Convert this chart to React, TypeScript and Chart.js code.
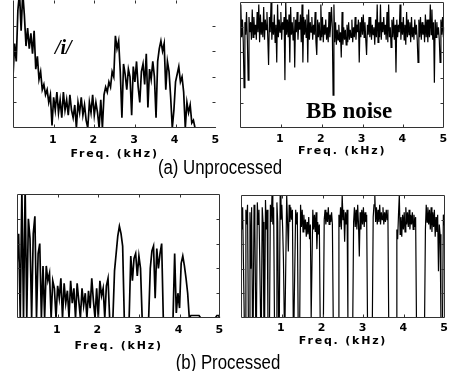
import React, { useEffect, useRef } from "react";
import { Chart, registerables } from "chart.js";

Chart.register(...registerables);

// ---- data ----
const VOWEL_STEP_KHZ = 0.04; // spacing of the /i/ spectrum samples, 0 .. 5 kHz
const NOISE_STEP_KHZ = 0.02; // spacing of the noise spectrum samples, 0 .. 5 kHz
const X_TICKS = [1, 2, 3, 4, 5];
const Y_TICKS = [1, 2, 3, 4];
const X_TITLE = "Freq. (kHz)";
const CAPTION_A = "(a) Unprocessed";
const CAPTION_B = "(b) Processed";
const LABEL_VOWEL = "/i/";
const LABEL_NOISE = "BB noise";

const vowelUnprocessed = [
  2.0, 3.3, 2.6, 4.6, 5.3, 3.8, 5.3, 4.4, 3.2, 3.9,
  3.1, 3.7, 2.9, 3.8, 2.3, 2.8, 1.9, 2.2, 1.5, 1.7,
  1.3, 1.5, 1.0, 1.3, 0.1, 1.2, 0.7, 1.4, 0.6, 1.1,
  0.4, 1.4, 0.7, 1.1, 0.5, 1.3, 0.7, 0.4, 0.9, 0.0,
  1.0, 0.6, 1.2, 0.5, 0.9, 0.3, 0.0, 1.0, 0.6, 1.3,
  0.5, 1.0, 0.6, 0.0, 1.1, 0.0, 1.3, 1.6, 1.4, 1.8,
  1.6, 2.2, 2.0, 3.6, 3.1, 3.4, 2.2, 0.4, 2.5, 2.1,
  1.5, 2.3, 2.0, 0.5, 2.4, 1.8, 2.6, 1.6, 1.0, 2.2,
  2.5, 1.7, 2.9, 0.8, 2.3, 1.9, 2.6, 2.0, 0.4, 2.6,
  3.1, 3.4, 3.0, 3.3, 1.5, 2.6, 2.2, 1.2, 0.0, 0.7,
  1.8, 2.1, 2.4, 1.8, 2.0, 1.4, 0.0, 1.0, 0.6, 0.9,
  0.2, 0.3, 0.0, 0, 0, 0, 0, 0, 0, 0,
  0, 0, 0, 0, 0, 0,
];

const noiseUnprocessed = [
  3.9, 4.9, 3.6, 4.3, 3.4, 1.6, 4.2, 3.7, 4.6, 3.5,
  1.9, 4.4, 3.8, 4.2, 3.5, 4.7, 3.6, 4.4, 3.7, 4.1,
  3.5, 4.6, 3.8, 4.9, 3.4, 4.5, 3.7, 4.2, 3.6, 4.8,
  3.5, 4.3, 3.9, 4.6, 3.6, 2.5, 4.4, 3.8, 5.0, 3.5,
  4.2, 3.7, 4.5, 3.4, 4.1, 2.6, 4.9, 3.6, 4.3, 3.8,
  4.6, 3.5, 4.2, 3.9, 4.4, 1.9, 5.0, 3.7, 4.3, 3.6,
  4.5, 2.6, 4.8, 3.7, 4.2, 3.5, 4.4, 2.4, 4.3, 3.8,
  4.6, 3.5, 4.2, 3.9, 4.5, 3.4, 4.9, 2.6, 4.4, 3.7,
  4.3, 3.6, 4.5, 2.6, 4.7, 3.5, 4.2, 3.8, 4.4, 3.5,
  4.1, 3.7, 4.6, 3.4, 2.9, 4.3, 3.6, 4.2, 3.5, 4.9,
  3.6, 4.4, 3.4, 4.1, 3.7, 4.3, 3.5, 4.0, 3.4, 4.6,
  3.6, 4.1, 4.8, 4.0, 1.3, 4.9, 3.4, 4.2, 3.3, 3.9,
  3.5, 4.1, 3.4, 3.8, 2.8, 4.6, 3.3, 4.0, 3.5, 3.9,
  3.3, 4.1, 3.4, 4.2, 3.5, 3.9, 3.6, 4.3, 3.4, 4.0,
  3.6, 4.4, 3.5, 4.1, 3.8, 4.3, 2.6, 4.2, 3.6, 4.4,
  3.7, 4.5, 3.6, 4.2, 3.5, 2.9, 4.1, 3.7, 4.4, 3.6,
  4.4, 3.5, 4.1, 3.7, 4.0, 3.3, 4.3, 3.6, 4.9, 3.4,
  4.2, 3.6, 4.9, 3.5, 4.2, 3.8, 4.4, 3.7, 4.1, 3.5,
  4.6, 3.4, 4.9, 3.6, 4.0, 3.2, 4.3, 3.6, 4.4, 3.5,
  4.1, 2.2, 4.3, 3.6, 4.1, 3.8, 4.9, 3.5, 4.2, 3.7,
  4.4, 3.5, 4.1, 3.3, 4.6, 3.6, 4.3, 3.7, 4.2, 3.4,
  4.4, 3.6, 4.0, 3.5, 4.3, 3.7, 4.1, 3.5, 2.6, 4.3,
  3.6, 4.4, 3.5, 4.2, 3.7, 4.1, 3.4, 4.5, 3.6, 4.3,
  3.4, 4.3, 3.6, 4.9, 3.7, 4.7, 3.5, 4.2, 1.8, 4.3,
  3.6, 4.2, 3.7, 4.0, 3.5, 2.6, 4.3, 3.7, 4.4, 3.6,
  4.0,
];

const vowelProcessed = [
  2.1, 3.4, 0, 5.2, 0, 5.3, 0, 4.0, 3.2, 0,
  3.4, 4.1, 0, 2.6, 3.0, 0, 2.1, 0, 2.1, 1.5,
  1.8, 0, 1.5, 1.2, 0, 1.3, 0.8, 1.6, 0, 1.4,
  0.6, 1.1, 0, 1.5, 0.6, 1.2, 0, 1.4, 0.7, 0,
  1.2, 0.5, 1.0, 0, 1.1, 0.4, 1.6, 0.7, 0, 1.2,
  0, 1.5, 0.9, 1.2, 0, 1.3, 1.6, 0, 0, 0,
  1.9, 2.6, 3.3, 3.7, 3.4, 2.9, 0, 0, 0, 0,
  2.5, 1.5, 2.4, 2.6, 1.7, 2.5, 2.0, 0, 0, 0,
  0, 0, 2.0, 2.7, 2.9, 0.8, 2.8, 2.0, 2.6, 3.0,
  0, 0, 0, 0, 0, 0, 0, 2.6, 0.2, 1.0,
  0.4, 2.2, 2.5, 2.1, 1.6, 1.0, 0, 0.1, 0.1, 0.1,
  0.1, 0.1, 0.1, 0, 0, 0, 0, 0, 0, 0,
  0, 0, 0, 0.1, 0.1, 0,
];

const noiseProcessed = [
  4.2, 3.6, 4.5, 2.2, 0, 0, 4.4, 3.8, 4.6, 0,
  0, 4.3, 2.0, 4.5, 0, 0, 4.6, 3.7, 0, 0,
  4.7, 3.8, 4.4, 2.3, 0, 0, 4.5, 3.9, 0, 0,
  4.8, 3.6, 4.4, 0, 0, 0, 4.6, 3.9, 5.0, 3.8,
  4.5, 0, 0, 0, 4.7, 3.9, 0, 0, 5.0, 4.0,
  4.6, 3.7, 2.4, 0, 0, 0, 5.0, 3.9, 2.7, 4.6,
  3.9, 4.5, 4.0, 4.4, 0, 0, 0, 4.4, 3.8, 4.3,
  0, 0, 0, 4.6, 3.7, 4.4, 3.5, 4.2, 3.6, 4.0,
  3.3, 3.9, 3.4, 4.1, 3.2, 3.8, 0, 0, 4.4, 3.6,
  4.2, 3.5, 4.3, 2.8, 3.9, 3.4, 3.8, 0, 0, 0,
  0, 0, 4.0, 4.4, 3.8, 4.3, 3.9, 4.5, 3.8, 4.2,
  3.9, 4.3, 3.8, 0, 0, 0, 0, 0, 0, 0,
  4.2, 3.7, 4.5, 3.6, 5.0, 4.0, 4.4, 3.1, 4.3, 3.8,
  4.4, 0, 0, 0, 0, 0, 0, 0, 3.9, 4.5,
  3.7, 4.4, 3.6, 4.6, 3.8, 2.5, 4.3, 3.6, 4.4, 3.8,
  4.5, 3.7, 4.3, 3.9, 4.2, 0, 0, 0, 0, 0,
  0, 0, 4.1, 4.6, 5.0, 3.9, 4.5, 3.8, 4.4, 3.9,
  4.6, 3.8, 4.3, 4.0, 4.5, 3.8, 4.3, 3.9, 4.4, 4.0,
  4.4, 0, 0, 0, 0, 0, 0, 0, 0, 0,
  0, 3.6, 3.2, 4.2, 5.0, 3.4, 4.1, 3.3, 4.2, 3.6,
  4.3, 3.5, 4.5, 3.8, 4.3, 3.7, 4.4, 3.6, 4.2, 3.8,
  4.3, 3.6, 4.2, 3.7, 4.1, 0, 0, 0, 0, 0,
  0, 0, 0, 0, 0, 0, 3.6, 4.6, 3.9, 4.5,
  3.8, 4.4, 3.6, 4.5, 3.5, 4.3, 3.7, 4.4, 3.3, 4.1,
  3.5, 4.2, 1.9, 3.8, 3.4, 0, 0, 0, 4.2, 3.9,
  4.1,
];

// ---- plugins ----
const letterSpacingPlugin = {
  id: "letterSpacing",
  beforeDraw(chart: any) {
    chart.ctx.letterSpacing = "1.8px";
  },
};

function framePlugin(open: boolean) {
  return {
    id: "panelFrame",
    afterDatasetsDraw(chart: any) {
      const { ctx, chartArea: a } = chart;
      const xs = chart.scales.x;
      const ys = chart.scales.y;
      const L = Math.round(a.left) + 0.5;
      const R = Math.round(a.right) - 0.5;
      const T = Math.round(a.top) + 0.5;
      const B = Math.round(a.bottom) - 0.5;
      const len = 3;
      ctx.save();
      ctx.strokeStyle = "#333";
      ctx.lineWidth = 1;
      ctx.beginPath();
      if (open) {
        ctx.moveTo(L, T);
        ctx.lineTo(L, B);
        ctx.lineTo(R, B);
      } else {
        ctx.rect(L, T, R - L, B - T);
      }
      for (const v of X_TICKS) {
        const px = Math.round(xs.getPixelForValue(v)) + 0.5;
        if (px >= R - 1) continue;
        ctx.moveTo(px, B);
        ctx.lineTo(px, B - len);
        ctx.moveTo(px, T);
        ctx.lineTo(px, T + len);
      }
      for (const v of Y_TICKS) {
        const py = Math.round(ys.getPixelForValue(v)) + 0.5;
        ctx.moveTo(L, py);
        ctx.lineTo(L + len, py);
        ctx.moveTo(R, py);
        ctx.lineTo(R - len, py);
      }
      ctx.stroke();
      ctx.restore();
    },
  };
}

type PanelProps = {
  values: number[];
  step: number;
  lineWidth: number;
  left: number;
  top: number;
  width: number;
  height: number;
  padLeft: number;
  padRight: number;
  axisHeight: number;
  labelPad: number;
  openFrame?: boolean;
};

const AXIS_FONT = { family: "'DejaVu Sans', sans-serif", weight: "bold" as const, size: 11 };

function Panel(p: PanelProps) {
  const ref = useRef<HTMLCanvasElement>(null);
  useEffect(() => {
    const canvas = ref.current!;
    const points = p.values.map((v, i) => ({ x: Math.round(i * p.step * 100) / 100, y: v }));
    const chart = new Chart(canvas, {
      type: "line",
      data: {
        datasets: [
          {
            data: points,
            borderColor: "#000",
            borderWidth: p.lineWidth,
            pointRadius: 0,
            tension: 0,
            fill: false,
          },
        ],
      },
      options: {
        animation: false,
        responsive: false,
        devicePixelRatio: 1,
        events: [],
        layout: { padding: { left: p.padLeft, right: p.padRight, top: 0, bottom: 0 } },
        plugins: { legend: { display: false }, tooltip: { enabled: false } },
        scales: {
          x: {
            type: "linear",
            min: 0,
            max: 5,
            grid: { display: false, drawTicks: false },
            border: { display: false },
            ticks: {
              stepSize: 1,
              autoSkip: false,
              maxRotation: 0,
              padding: p.labelPad,
              color: "#000",
              font: AXIS_FONT,
              callback: (v: any) => (X_TICKS.includes(Number(v)) ? String(v) : ""),
            },
            title: { display: true, text: X_TITLE, color: "#000", font: AXIS_FONT, padding: 0 },
            afterFit: (s: any) => {
              s.height = p.axisHeight;
            },
          },
          y: { type: "linear", min: 0, max: 5, display: false },
        },
      } as any,
      plugins: [letterSpacingPlugin, framePlugin(!!p.openFrame)],
    });
    return () => chart.destroy();
  }, []);
  return (
    <canvas
      ref={ref}
      width={p.width}
      height={p.height}
      style={{ position: "absolute", left: p.left, top: p.top, width: p.width, height: p.height }}
    />
  );
}

const captionStyle: React.CSSProperties = {
  position: "absolute",
  fontFamily: "'Liberation Sans', Arial, sans-serif",
  fontSize: 20,
  lineHeight: "20px",
  color: "#000",
  whiteSpace: "nowrap",
  transform: "translateX(-50%) scaleX(0.84)",
  transformOrigin: "50% 50%",
};

export default function App() {
  return (
    <div
      style={{
        position: "absolute",
        left: 0,
        top: 0,
        width: 454,
        height: 371,
        background: "#fff",
        overflow: "hidden",
      }}
    >
      <Panel values={vowelUnprocessed} step={VOWEL_STEP_KHZ} lineWidth={1.7} left={3} top={0} width={223} height={161} padLeft={10} padRight={8} axisHeight={33} labelPad={6} openFrame />
      <Panel values={noiseUnprocessed} step={NOISE_STEP_KHZ} lineWidth={1.2} left={230} top={2} width={223} height={156} padLeft={10} padRight={8} axisHeight={30} labelPad={5} />
      <Panel values={vowelProcessed} step={VOWEL_STEP_KHZ} lineWidth={1.7} left={7} top={194} width={223} height={159} padLeft={10} padRight={8} axisHeight={35} labelPad={6} />
      <Panel values={noiseProcessed} step={NOISE_STEP_KHZ} lineWidth={1.2} left={231} top={195} width={222} height={153} padLeft={10} padRight={8} axisHeight={30} labelPad={4} />
      <div style={{ ...captionStyle, left: 220, top: 157 }}>{CAPTION_A}</div>
      <div style={{ ...captionStyle, left: 228, top: 352 }}>{CAPTION_B}</div>
      <div
        style={{
          position: "absolute",
          left: 55,
          top: 37,
          fontFamily: "'Liberation Serif', 'DejaVu Serif', serif",
          fontWeight: "bold",
          fontStyle: "italic",
          fontSize: 20,
          lineHeight: "20px",
          whiteSpace: "nowrap",
        }}
      >
        {LABEL_VOWEL}
      </div>
      <div
        style={{
          position: "absolute",
          left: 306,
          top: 99,
          fontFamily: "'Liberation Serif', 'DejaVu Serif', serif",
          fontWeight: "bold",
          fontSize: 23,
          lineHeight: "23px",
          whiteSpace: "nowrap",
        }}
      >
        {LABEL_NOISE}
      </div>
    </div>
  );
}
